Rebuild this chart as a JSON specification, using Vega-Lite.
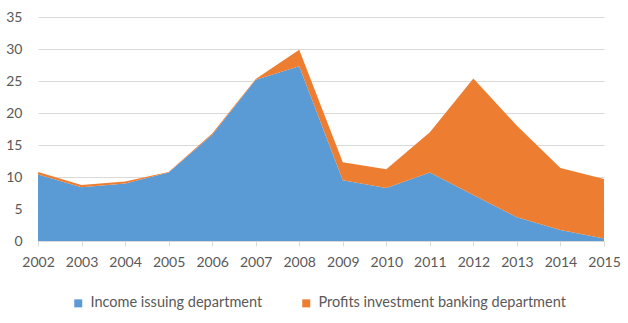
{
  "$schema": "https://vega.github.io/schema/vega-lite/v6.json",
  "width": 566,
  "height": 224,
  "autosize": {"type": "none"},
  "padding": {"left": 38, "top": 17, "right": 24, "bottom": 82},
  "background": "white",
  "config": {
    "view": {"stroke": null},
    "font": "Lato",
    "axis": {"labelFont": "Lato", "labelColor": "#595959", "labelFontSize": 14},
    "legend": {"labelFont": "Lato", "labelColor": "#595959", "labelFontSize": 14.5}
  },
  "data": {
    "values": [
      {"year": 2002, "series": "Income issuing department", "k": 0, "value": 10.4},
      {"year": 2003, "series": "Income issuing department", "k": 0, "value": 8.4},
      {"year": 2004, "series": "Income issuing department", "k": 0, "value": 9.0},
      {"year": 2005, "series": "Income issuing department", "k": 0, "value": 10.7},
      {"year": 2006, "series": "Income issuing department", "k": 0, "value": 16.6},
      {"year": 2007, "series": "Income issuing department", "k": 0, "value": 25.2},
      {"year": 2008, "series": "Income issuing department", "k": 0, "value": 27.3},
      {"year": 2009, "series": "Income issuing department", "k": 0, "value": 9.5},
      {"year": 2010, "series": "Income issuing department", "k": 0, "value": 8.3},
      {"year": 2011, "series": "Income issuing department", "k": 0, "value": 10.7},
      {"year": 2012, "series": "Income issuing department", "k": 0, "value": 7.2},
      {"year": 2013, "series": "Income issuing department", "k": 0, "value": 3.7},
      {"year": 2014, "series": "Income issuing department", "k": 0, "value": 1.7},
      {"year": 2015, "series": "Income issuing department", "k": 0, "value": 0.4},
      {"year": 2002, "series": "Profits investment banking department", "k": 1, "value": 0.4},
      {"year": 2003, "series": "Profits investment banking department", "k": 1, "value": 0.35},
      {"year": 2004, "series": "Profits investment banking department", "k": 1, "value": 0.3},
      {"year": 2005, "series": "Profits investment banking department", "k": 1, "value": 0.1},
      {"year": 2006, "series": "Profits investment banking department", "k": 1, "value": 0.2},
      {"year": 2007, "series": "Profits investment banking department", "k": 1, "value": 0.1},
      {"year": 2008, "series": "Profits investment banking department", "k": 1, "value": 2.6},
      {"year": 2009, "series": "Profits investment banking department", "k": 1, "value": 2.8},
      {"year": 2010, "series": "Profits investment banking department", "k": 1, "value": 2.9},
      {"year": 2011, "series": "Profits investment banking department", "k": 1, "value": 6.3},
      {"year": 2012, "series": "Profits investment banking department", "k": 1, "value": 18.2},
      {"year": 2013, "series": "Profits investment banking department", "k": 1, "value": 14.3},
      {"year": 2014, "series": "Profits investment banking department", "k": 1, "value": 9.7},
      {"year": 2015, "series": "Profits investment banking department", "k": 1, "value": 9.3}
    ]
  },
  "mark": {"type": "area", "opacity": 1},
  "encoding": {
    "x": {
      "field": "year",
      "type": "quantitative",
      "scale": {"domain": [2002, 2015], "nice": false, "zero": false},
      "axis": {
        "title": null,
        "values": [2002, 2003, 2004, 2005, 2006, 2007, 2008, 2009, 2010, 2011, 2012, 2013, 2014, 2015],
        "format": "d",
        "grid": false,
        "domainColor": "#D9D9D9",
        "tickColor": "#D9D9D9",
        "tickSize": 5,
        "labelPadding": 9,
        "labelFlush": false
      }
    },
    "y": {
      "field": "value",
      "type": "quantitative",
      "stack": "zero",
      "scale": {"domain": [0, 35], "nice": false},
      "axis": {
        "title": null,
        "values": [0, 5, 10, 15, 20, 25, 30, 35],
        "domain": false,
        "ticks": false,
        "gridColor": "#D9D9D9",
        "labelPadding": 16
      }
    },
    "color": {
      "field": "series",
      "type": "nominal",
      "scale": {
        "domain": ["Income issuing department", "Profits investment banking department"],
        "range": ["#5B9BD5", "#ED7D31"]
      },
      "legend": {
        "title": null,
        "orient": "none",
        "direction": "horizontal",
        "legendX": 33,
        "legendY": 279,
        "symbolType": "square",
        "symbolSize": 64,
        "symbolStrokeWidth": 0,
        "labelOffset": 5,
        "labelLimit": 0,
        "columnPadding": 36
      }
    },
    "order": {"field": "k", "type": "quantitative", "sort": "ascending"}
  }
}
